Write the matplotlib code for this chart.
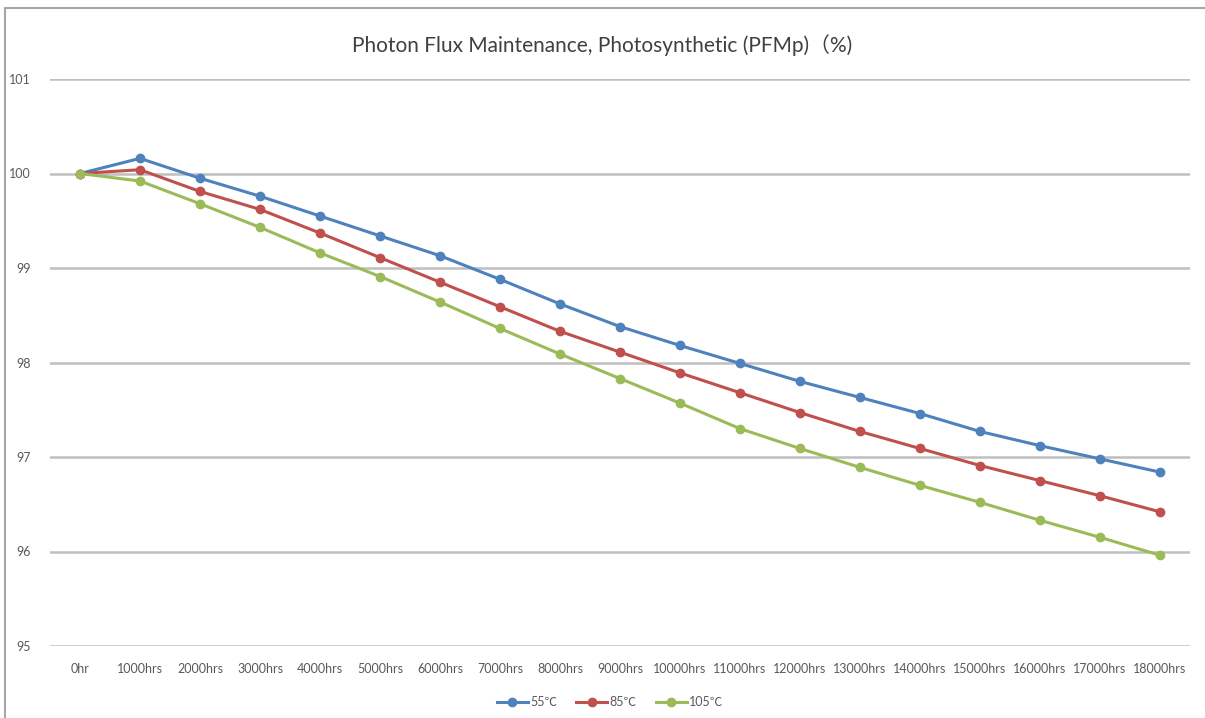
import matplotlib.pyplot as plt
from matplotlib.lines import Line2D

hours = ['0hr', '1000hrs', '2000hrs', '3000hrs', '4000hrs', '5000hrs', '6000hrs',
         '7000hrs', '8000hrs', '9000hrs', '10000hrs', '11000hrs', '12000hrs',
         '13000hrs', '14000hrs', '15000hrs', '16000hrs', '17000hrs', '18000hrs']
t55 = [100.00, 100.16, 99.95, 99.76, 99.55, 99.34, 99.13, 98.88, 98.62, 98.38,
       98.18, 97.99, 97.80, 97.63, 97.46, 97.27, 97.12, 96.98, 96.84]
t85 = [100.00, 100.04, 99.81, 99.62, 99.37, 99.11, 98.85, 98.59, 98.33, 98.11,
       97.89, 97.68, 97.47, 97.27, 97.09, 96.91, 96.75, 96.59, 96.42]
t105 = [100.00, 99.92, 99.68, 99.43, 99.16, 98.91, 98.64, 98.36, 98.09, 97.83,
        97.57, 97.30, 97.09, 96.89, 96.70, 96.52, 96.33, 96.15, 95.96]
series = [('55℃', t55, '#4f81bd'), ('85℃', t85, '#c0504d'), ('105℃', t105, '#9bbb59')]
yticks = [95, 96, 97, 98, 99, 100, 101]

plt.rcParams['font.family'] = ['Lato', 'Noto Sans CJK SC', 'DejaVu Sans']

fig = plt.figure(figsize=(12.05, 7.18), dpi=100)
ax = fig.add_axes([50/1205, 1 - 646/718, 1140/1205, 567/718])

x = range(len(hours))
for name, vals, col in series:
    ax.plot(x, vals, color=col, lw=2.2, marker='o', ms=6, label=name)

ax.set_xlim(-0.5, len(hours) - 0.5)
ax.set_ylim(95, 101)
ax.set_yticks(yticks)
ax.set_yticklabels([str(v) for v in yticks])
ax.set_xticks(list(x))
ax.set_xticklabels(hours)
ax.yaxis.grid(True, color='#bfbfbf', lw=1.8)
ax.set_axisbelow(True)
for s in ax.spines.values():
    s.set_visible(False)
ax.tick_params(length=0, colors='#595959', labelsize=9)
ax.tick_params(axis='y', pad=14)
ax.tick_params(axis='x', pad=12)

fig.text(0.5, 1 - 45/718, 'Photon Flux Maintenance, Photosynthetic (PFMp)（%)',
         ha='center', va='center', fontsize=15, color='#404040')

# chart frame
fig.add_artist(Line2D([5/1205, 5/1205], [0, 1 - 8/718], transform=fig.transFigure,
                      color='#a6a6a6', lw=1.5))
fig.add_artist(Line2D([5/1205, 1], [1 - 8/718, 1 - 8/718], transform=fig.transFigure,
                      color='#a6a6a6', lw=1.5))

fig.legend(loc='center', bbox_to_anchor=(610/1205, 1 - 702/718), ncol=3, frameon=False,
           fontsize=9, handlelength=2.5, handletextpad=0.2, columnspacing=1.5,
           labelcolor='#595959')

fig.savefig('out.png', dpi=100, facecolor='white')
